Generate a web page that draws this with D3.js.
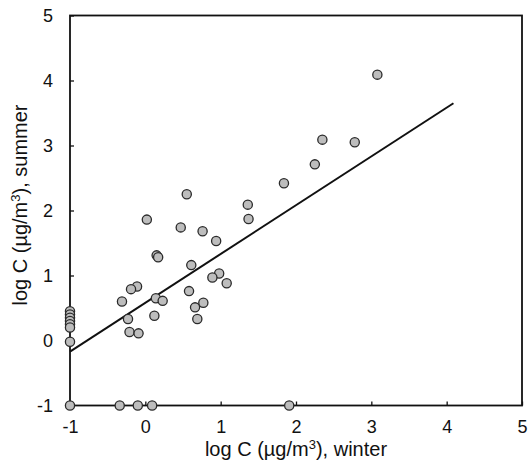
<!DOCTYPE html>
<html>
<head>
<meta charset="utf-8">
<script src="https://cdn.jsdelivr.net/npm/d3@7"></script>
<style>
  body { margin: 0; background: #fff; }
  svg text { font-family: "Liberation Sans", Arial, sans-serif; fill: #111; }
</style>
</head>
<body>
<svg id="chart" width="529" height="463"></svg>
<script>
// detected in both seasons
var winter = [3.08, 2.35, 2.78, 2.25, 1.84, 1.36, 1.37, 0.55, 0.02, 0.47, 0.76, 0.94,
    0.15, 0.17, 0.61, 0.98, 0.89, 1.08, -0.11, -0.19, 0.58, 0.14, 0.23, -0.31,
    0.77, 0.66, 0.12, -0.23, 0.69, -0.21, -0.09];
var summer = [4.09, 3.09, 3.05, 2.71, 2.42, 2.09, 1.87, 2.25, 1.86, 1.74, 1.68, 1.53,
    1.31, 1.28, 1.16, 1.03, 0.97, 0.88, 0.83, 0.79, 0.76, 0.65, 0.61, 0.60,
    0.58, 0.51, 0.38, 0.33, 0.33, 0.13, 0.11];
// not detected in winter (plotted at -1)
var summerOnly = [0.45, 0.40, 0.35, 0.30, 0.25, 0.20, -0.02];
// not detected in summer (plotted at -1)
var winterOnly = [-1, -0.34, -0.1, 0.09, 1.91];
// regression line end points
var fitX = [-1, 4.09];
var fitY = [-0.17, 3.65];
var ticks = [-1, 0, 1, 2, 3, 4, 5];

var svg = d3.select("#chart");
var x = d3.scaleLinear().domain([-1, 5]).range([70, 522]);
var y = d3.scaleLinear().domain([-1, 5]).range([405.5, 15.5]);

var fmt = function(d) { return String(d); };

var xAxis = svg.append("g")
    .attr("transform", "translate(0," + y(-1) + ")")
    .call(d3.axisBottom(x).tickValues(ticks).tickFormat(fmt).tickSize(-4).tickPadding(15));
var yAxis = svg.append("g")
    .attr("transform", "translate(" + x(-1) + ",0)")
    .call(d3.axisLeft(y).tickValues(ticks).tickFormat(fmt).tickSize(-4).tickPadding(17));

[xAxis, yAxis].forEach(function(a) {
    a.select(".domain").remove();
    a.selectAll("line").attr("stroke", "#111").attr("stroke-width", 1.3);
    a.selectAll("text").attr("font-size", 18).attr("fill", "#111");
});

svg.append("rect")
    .attr("x", x(-1)).attr("y", y(5))
    .attr("width", x(5) - x(-1)).attr("height", y(-1) - y(5))
    .attr("fill", "none").attr("stroke", "#111").attr("stroke-width", 1.8);

svg.append("line")
    .attr("x1", x(fitX[0])).attr("y1", y(fitY[0]))
    .attr("x2", x(fitX[1])).attr("y2", y(fitY[1]))
    .attr("stroke", "#111").attr("stroke-width", 2);

var pts = winter.map(function(d, i) { return [d, summer[i]]; })
    .concat(summerOnly.map(function(d) { return [-1, d]; }))
    .concat(winterOnly.map(function(d) { return [d, -1]; }));

svg.append("g").selectAll("circle")
    .data(pts)
    .enter().append("circle")
    .attr("cx", function(d) { return x(d[0]); })
    .attr("cy", function(d) { return y(d[1]); })
    .attr("r", 4.6)
    .attr("fill", "#bdbdbd")
    .attr("stroke", "#2a2a2a")
    .attr("stroke-width", 1.3);

svg.append("text")
    .attr("x", 296).attr("y", 456)
    .attr("text-anchor", "middle").attr("font-size", 20)
    .html("log C (µg/m<tspan baseline-shift=\"super\" font-size=\"13\">3</tspan>), winter");

svg.append("text")
    .attr("transform", "translate(27,205) rotate(-90)")
    .attr("text-anchor", "middle").attr("font-size", 20)
    .html("log C (µg/m<tspan baseline-shift=\"super\" font-size=\"13\">3</tspan>), summer");
</script>
</body>
</html>
